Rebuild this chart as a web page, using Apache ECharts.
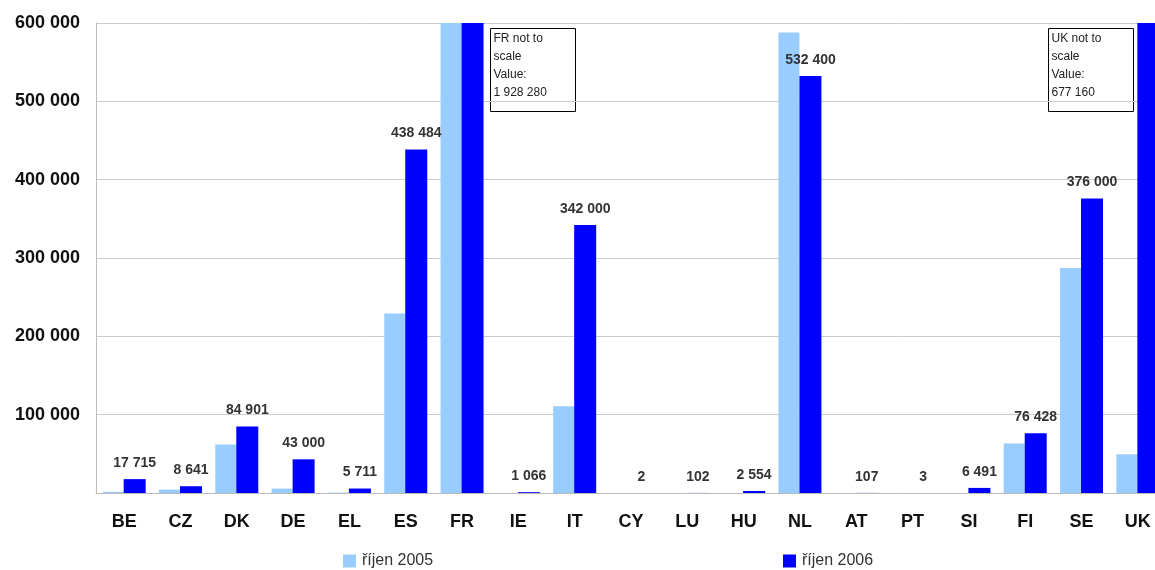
<!DOCTYPE html>
<html>
<head>
<meta charset="utf-8">
<script src="https://cdn.jsdelivr.net/npm/echarts@6/dist/echarts.min.js"></script>
<style>
html,body{margin:0;padding:0;background:#fff;overflow:hidden;width:1155px;height:570px;}
#chart{width:1166px;height:570px;}
</style>
</head>
<body>
<div id="chart"></div>
<script>
var categories = ['BE','CZ','DK','DE','EL','ES','FR','IE','IT','CY','LU','HU','NL','AT','PT','SI','FI','SE','UK'];
var seriesNames = ['říjen 2005','říjen 2006'];
var oct2005 = [1500, 4300, 61800, 5600, 500, 229000, 1500000, 0, 110700, 0, 0, 0, 588000, 0, 0, 0, 63100, 287200, 49400];
var oct2006 = [17715, 8641, 84901, 43000, 5711, 438484, 1928280, 1066, 342000, 2, 102, 2554, 532400, 107, 3, 6491, 76428, 376000, 677160];
var hiddenLabels = ['FR','UK'];
var yTicks = [0, 100000, 200000, 300000, 400000, 500000, 600000];
var notes = {
  FR: 'FR not to\nscale\nValue:\n1 928 280',
  UK: 'UK not to\nscale\nValue:\n677 160'
};

function fmt(v){
  return String(v).replace(/\B(?=(\d{3})+(?!\d))/g, ' ');
}

var chart = echarts.init(document.getElementById('chart'));

var darkData = oct2006.map(function(v, i){
  var d = {value: v};
  if (hiddenLabels.indexOf(categories[i]) >= 0) d.label = {show: false};
  return d;
});

function noteBox(x, y, text){
  return {
    type: 'group', left: x, top: y,
    children: [
      {type: 'rect', shape: {x: 0, y: 0, width: 85, height: 83},
       style: {fill: '#fff', stroke: '#000', lineWidth: 1}},
      {type: 'text', left: 3, top: 1,
       style: {text: text, font: '12px Arial, "Liberation Sans", sans-serif',
               fill: '#222', lineHeight: 18}}
    ]
  };
}

chart.setOption({
  animation: false,
  backgroundColor: '#fff',
  textStyle: {fontFamily: 'Arial, "Liberation Sans", sans-serif'},
  grid: {left: 96, top: 23, bottom: 77, right: 0, containLabel: false},
  legend: [
    {data: [seriesNames[0]], left: 343, top: 553, padding: 0, itemWidth: 13, itemHeight: 13,
     icon: 'rect', itemGap: 6, textStyle: {fontSize: 16, color: '#333', padding: [0, 0, 0, 1]}},
    {data: [seriesNames[1]], left: 783, top: 553, padding: 0, itemWidth: 13, itemHeight: 13,
     icon: 'rect', itemGap: 6, textStyle: {fontSize: 16, color: '#333', padding: [0, 0, 0, 1]}}
  ],
  xAxis: {
    type: 'category',
    data: categories,
    axisLine: {show: true, lineStyle: {color: '#bbb', width: 1}},
    axisTick: {show: false},
    axisLabel: {fontSize: 18, fontWeight: 'bold', color: '#111', margin: 20, interval: 0}
  },
  yAxis: {
    type: 'value',
    min: yTicks[0],
    max: yTicks[yTicks.length - 1],
    interval: yTicks[1] - yTicks[0],
    axisLine: {show: true, lineStyle: {color: '#bbb', width: 1}},
    axisTick: {show: false},
    splitLine: {lineStyle: {color: '#ccc', width: 1}},
    axisLabel: {
      fontSize: 18, fontWeight: 'bold', color: '#111', margin: 16,
      formatter: function(v){ return v === 0 ? '' : fmt(v); }
    }
  },
  series: [
    {
      name: seriesNames[0], type: 'bar', data: oct2005,
      barWidth: 21, barGap: '0%',
      itemStyle: {color: '#99CCFF'},
      clip: true
    },
    {
      name: seriesNames[1], type: 'bar', data: darkData,
      barWidth: 22,
      itemStyle: {color: '#0000FF'},
      clip: true,
      label: {
        show: true, position: 'top', distance: 9,
        fontSize: 14, fontWeight: 'bold', color: '#333',
        formatter: function(p){ return fmt(p.value); }
      }
    }
  ],
  graphic: [
    noteBox(490, 28, notes.FR),
    noteBox(1048, 28, notes.UK)
  ]
});
</script>
</body>
</html>
